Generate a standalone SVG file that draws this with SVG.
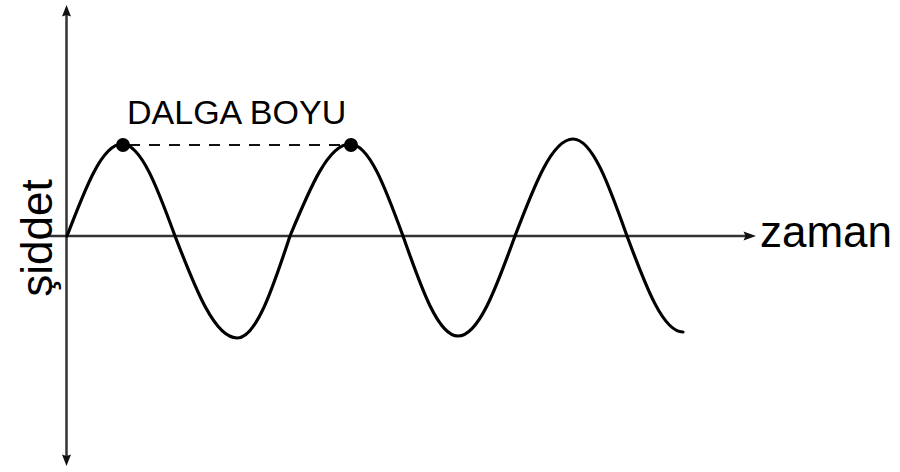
<svg xmlns="http://www.w3.org/2000/svg" width="900" height="472" viewBox="0 0 900 472">
<style>
.axis{stroke:#333;stroke-width:2.5;fill:none}
.head{fill:#111;stroke:none}
.wave{stroke:#000;stroke-width:3.2;fill:none;stroke-linejoin:round;stroke-linecap:round}
.dash{stroke:#111;stroke-width:2;stroke-dasharray:11 9;fill:none}
.dot{fill:#000}
.lbl{font-family:"Liberation Sans",Arial,sans-serif;fill:#000}
</style>
<rect width="900" height="472" fill="#fff"/>
<g id="connectors">
  <line class="axis" x1="66.5" y1="14" x2="66.5" y2="458"/>
  <path class="head" d="M66.5,5 L71,16.5 L66.5,15 L62,16.5 Z"/>
  <path class="head" d="M66.5,466 L71,454.5 L66.5,456 L62,454.5 Z"/>
  <line class="axis" x1="43" y1="236" x2="746" y2="236"/>
  <path class="head" d="M756,236 L743.5,240.5 L745.5,236 L743.5,231.5 Z"/>
  <line class="dash" x1="129" y1="145" x2="345" y2="145"/>
</g>
<g id="wave">
  <path class="wave" d="M67,236 C85.4,187.7 102.2,144 122,144 C141.1,144 157.3,187.7 175,236 C195.7,289.6 214.7,338 237,338 C256.1,338 272.3,289.6 290,236 C310.1,187.7 328.4,144 350,144 C369.1,144 385.3,187.7 403,236 C421.4,288.5 438.2,336 458,336 C478.5,336 495.9,288.5 515,236 C534.4,185.1 552.1,139 573,139 C592.4,139 608.9,185.1 627,236 C646,287 663,332 683,332"/>
</g>
<g id="peak1"><circle class="dot" cx="123" cy="145" r="7"/></g>
<g id="peak2"><circle class="dot" cx="351" cy="145" r="7"/></g>
<g id="label-dalga"><text class="lbl" x="127" y="124" font-size="34">DALGA BOYU</text></g>
<g id="label-zaman"><text class="lbl" x="760" y="247" font-size="44">zaman</text></g>
<g id="label-siddet"><text class="lbl" font-size="44" text-anchor="middle" transform="translate(52,238) rotate(-90)">şiddet</text></g>
</svg>
